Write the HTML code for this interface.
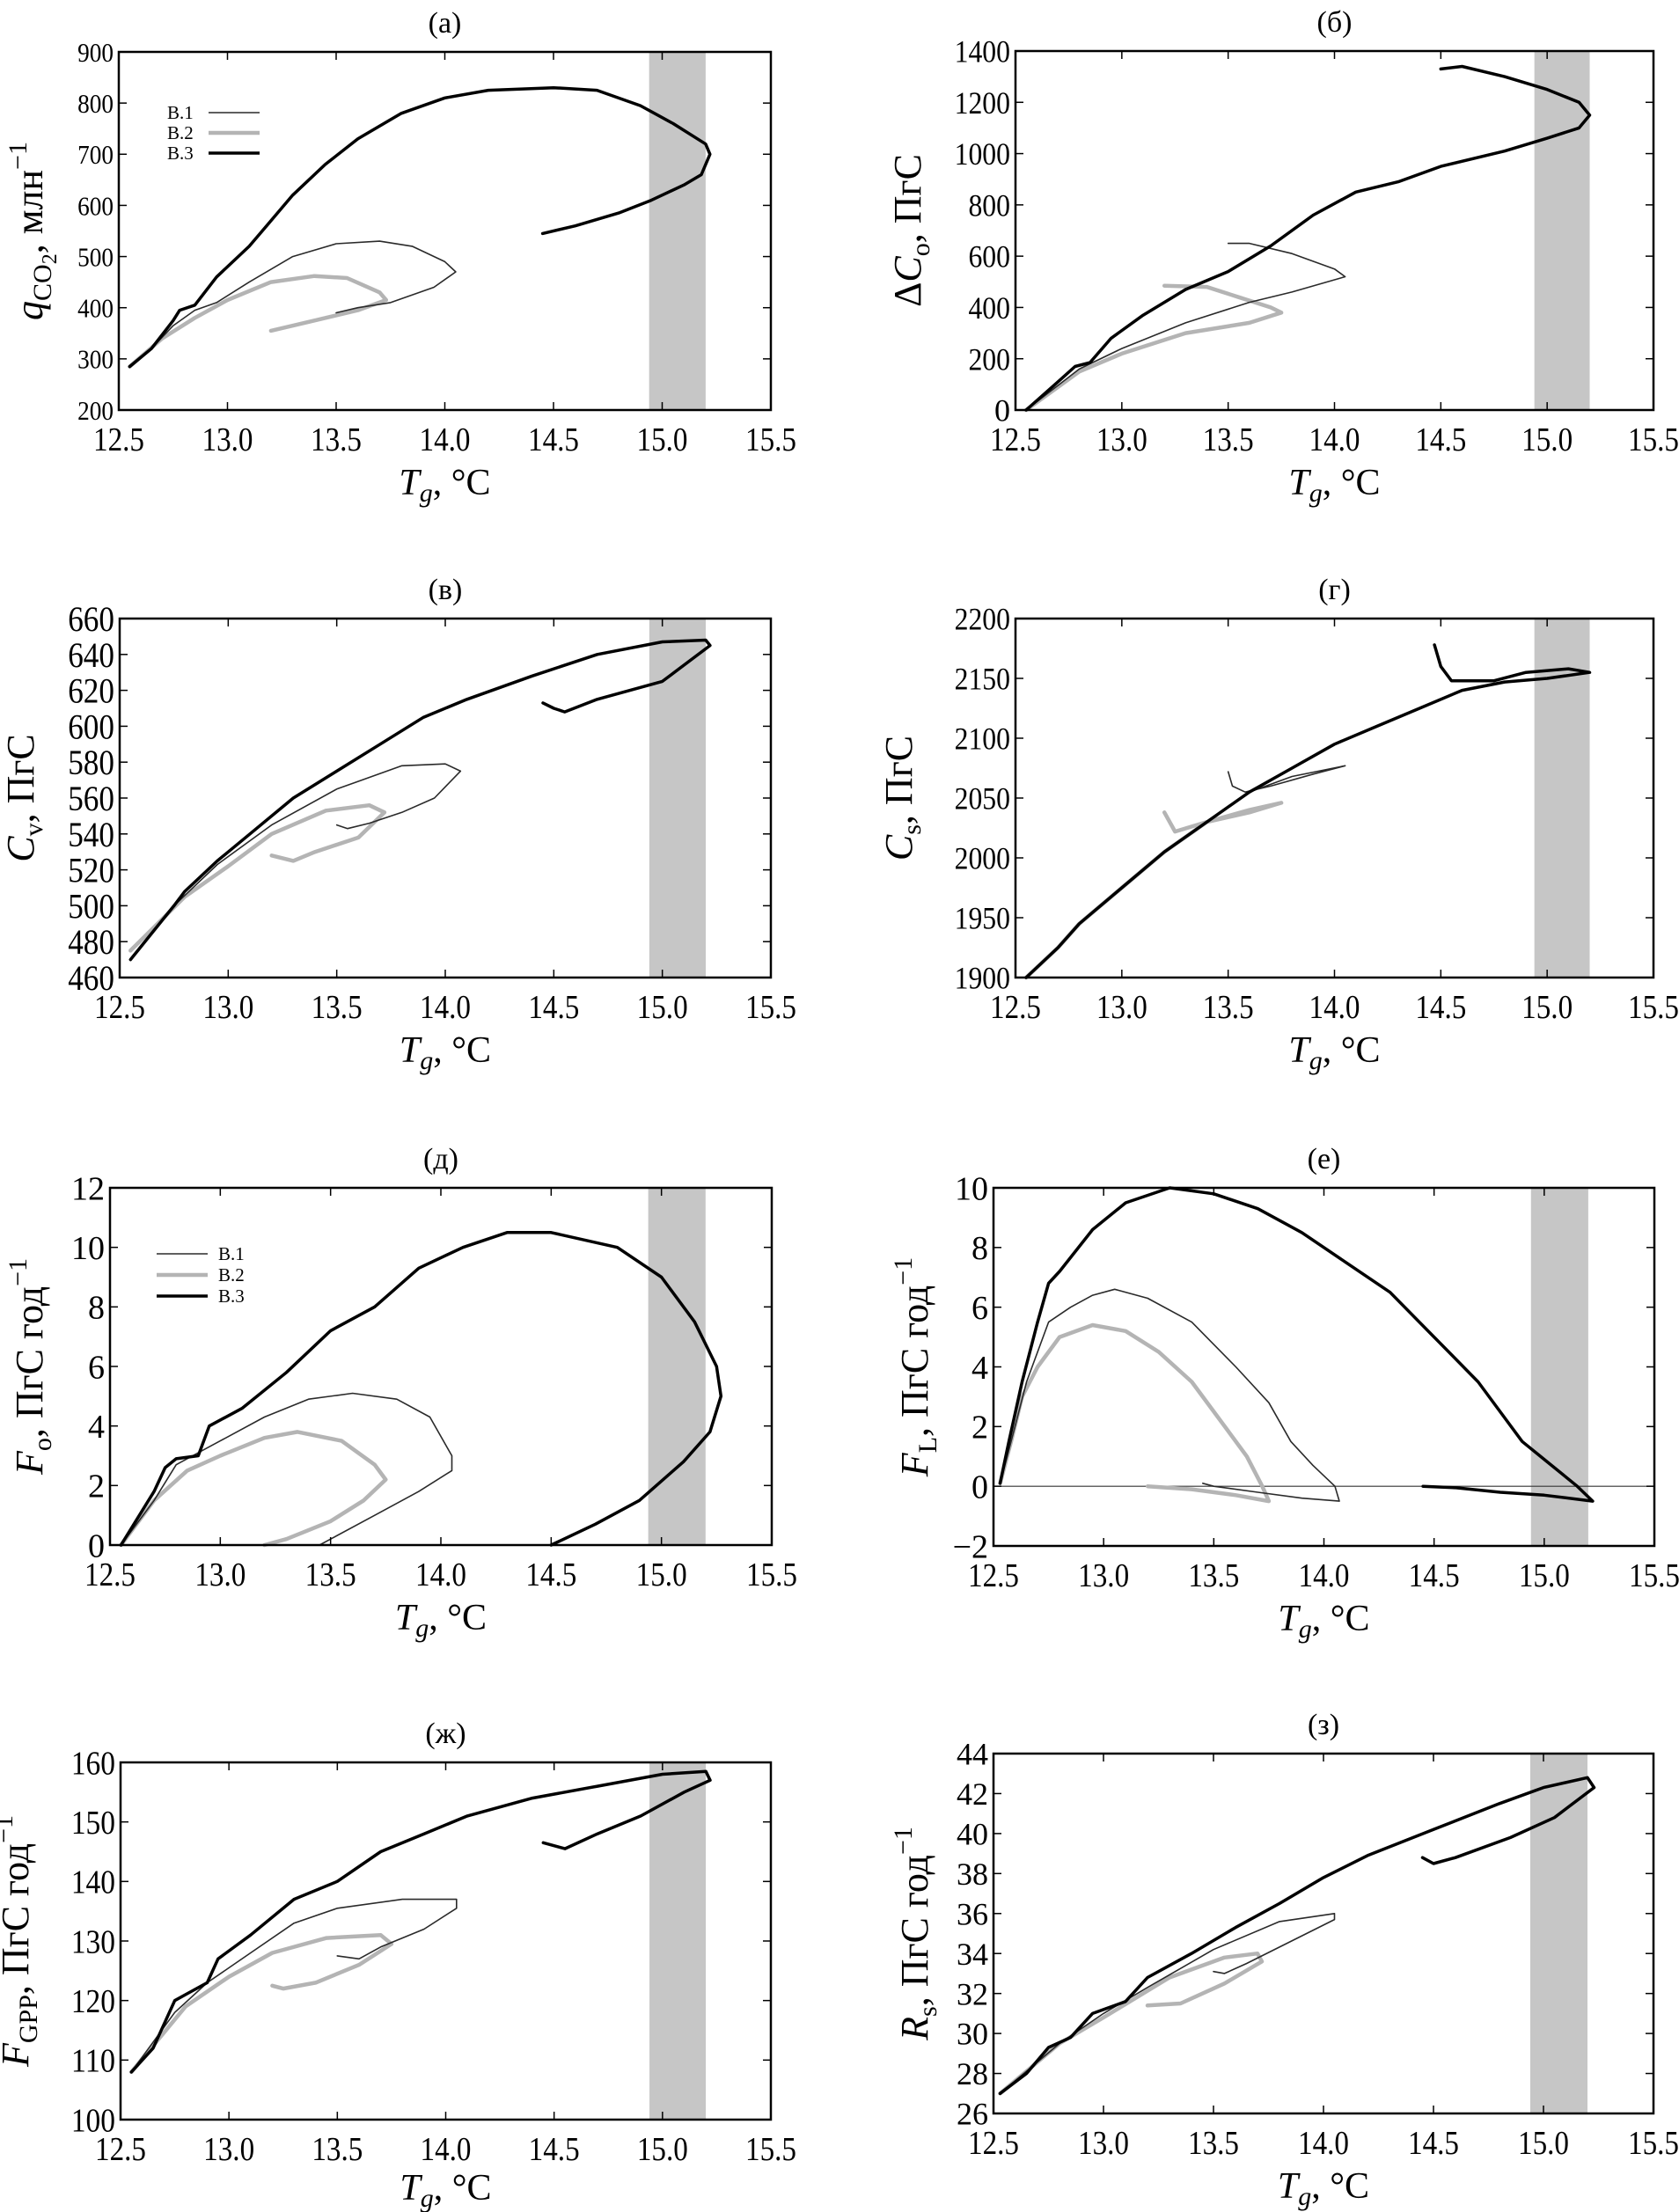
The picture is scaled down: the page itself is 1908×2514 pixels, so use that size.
<!DOCTYPE html>
<html><head><meta charset="utf-8">
<style>
html,body{margin:0;padding:0;background:#fff;}
svg{display:block;font-family:"Liberation Serif","DejaVu Serif",serif;}
svg text{font-family:"Liberation Serif","DejaVu Serif",serif;}
</style></head>
<body>
<svg id="fig" width="1908" height="2514" viewBox="0 0 1908 2514" xmlns="http://www.w3.org/2000/svg"></svg>
<script>
// X axis tick labels (shared)
const xTicks = [12.5, 13.0, 13.5, 14.0, 14.5, 15.0, 15.5];
const xTickLabels = ["12.5","13.0","13.5","14.0","14.5","15.0","15.5"];
const bandRange = [14.94, 15.2];

// Panel (a) q_CO2
const aTicks = [200,300,400,500,600,700,800,900];
const aB3T = [12.55,12.65,12.75,12.78,12.85,12.95,13.1,13.2,13.3,13.45,13.6,13.8,14.0,14.2,14.5,14.7,14.9,15.05,15.2,15.22,15.18,15.1,14.95,14.8,14.6,14.45];
const aB3Y = [285,320,375,395,405,460,520,570,620,680,730,780,810,825,830,825,795,760,720,700,660,640,610,585,560,545];
const aB1T = [12.55,12.65,12.75,12.85,12.95,13.1,13.3,13.5,13.7,13.85,14.0,14.05,13.95,13.75,13.6,13.5];
const aB1Y = [285,320,365,395,410,450,500,525,530,520,490,470,440,410,400,390];
const aB2T = [12.55,12.7,12.85,13.0,13.2,13.4,13.55,13.7,13.73,13.6,13.4,13.2];
const aB2Y = [285,340,380,415,450,462,458,430,415,395,375,355];

// Panel (б) ΔC_o
const bTicks = [0,200,400,600,800,1000,1200,1400];
const bB3T = [12.55,12.7,12.78,12.85,12.95,13.1,13.3,13.5,13.7,13.9,14.1,14.3,14.5,14.8,15.0,15.15,15.2,15.15,15.0,14.8,14.6,14.5];
const bB3Y = [0,110,170,185,280,370,470,540,640,760,850,890,950,1010,1060,1100,1150,1200,1250,1300,1340,1330];
const bB1T = [12.55,12.8,13.0,13.3,13.6,13.8,14.05,14.0,13.8,13.6,13.5];
const bB1Y = [0,160,240,340,420,460,520,550,610,650,650];
const bB2T = [12.55,12.8,13.0,13.3,13.6,13.75,13.7,13.55,13.4,13.2];
const bB2Y = [0,150,220,300,340,380,400,440,480,485];

// Panel (в) C_v
const cTicks = [460,480,500,520,540,560,580,600,620,640,660];
const cB3T = [12.55,12.65,12.75,12.8,12.95,13.1,13.3,13.5,13.7,13.9,14.1,14.4,14.7,15.0,15.2,15.22,15.0,14.7,14.55,14.5,14.45];
const cB3Y = [470,485,500,508,525,540,560,575,590,605,615,628,640,647,648,645,625,615,608,610,613];
const cB1T = [12.55,12.75,12.95,13.2,13.5,13.8,14.0,14.07,13.95,13.8,13.65,13.55,13.5];
const cB1Y = [470,500,523,545,565,578,579,575,560,552,546,543,545];
const cB2T = [12.55,12.8,13.0,13.2,13.45,13.65,13.72,13.6,13.4,13.3,13.2];
const cB2Y = [475,505,522,540,553,556,552,538,530,525,528];

// Panel (г) C_s
const dTicks = [1900,1950,2000,2050,2100,2150,2200];
const dB3T = [12.55,12.7,12.8,13.0,13.2,13.4,13.6,13.8,14.0,14.2,14.4,14.6,14.8,15.0,15.2,15.1,14.9,14.75,14.55,14.5,14.47];
const dB3Y = [1900,1925,1945,1975,2005,2030,2055,2075,2095,2110,2125,2140,2147,2150,2155,2158,2155,2148,2148,2160,2178];
const dB1T = [12.55,12.7,12.8,13.0,13.2,13.4,13.6,13.8,14.05,13.9,13.7,13.58,13.52,13.5];
const dB1Y = [1900,1925,1945,1975,2005,2030,2055,2068,2077,2070,2060,2055,2060,2072];
const dB2T = [12.55,12.7,12.8,13.0,13.2,13.4,13.6,13.75,13.6,13.4,13.25,13.2];
const dB2Y = [1900,1925,1945,1975,2005,2030,2040,2046,2038,2030,2022,2038];

// Panel (д) F_o
const eTicks = [0,2,4,6,8,10,12];
const eB3T = [12.55,12.7,12.75,12.8,12.9,12.95,13.1,13.3,13.5,13.7,13.9,14.1,14.3,14.5,14.8,15.0,15.15,15.25,15.27,15.22,15.1,14.9,14.7,14.5];
const eB3Y = [0,1.8,2.6,2.9,3.0,4.0,4.6,5.8,7.2,8.0,9.3,10.0,10.5,10.5,10.0,9.0,7.5,6.0,5.0,3.8,2.8,1.5,0.7,0];
const eB1T = [12.55,12.7,12.8,12.9,13.0,13.2,13.4,13.6,13.8,13.95,14.05,14.05,13.9,13.7,13.5,13.45];
const eB1Y = [0,1.5,2.7,3.1,3.5,4.3,4.9,5.1,4.9,4.3,3.0,2.5,1.8,1.0,0.2,0];
const eB2T = [12.55,12.7,12.85,13.0,13.2,13.35,13.55,13.7,13.75,13.65,13.5,13.3,13.2];
const eB2Y = [0,1.5,2.5,3.0,3.6,3.8,3.5,2.7,2.2,1.5,0.8,0.2,0];

// Panel (е) F_L
const fTicks = [-2,0,2,4,6,8,10];
const fB3T = [12.53,12.57,12.63,12.7,12.75,12.8,12.95,13.1,13.3,13.5,13.7,13.9,14.1,14.3,14.5,14.7,14.9,15.0,15.15,15.22,15.0,14.8,14.6,14.45];
const fB3Y = [0.1,1.5,3.5,5.5,6.8,7.2,8.6,9.5,10.0,9.8,9.3,8.5,7.5,6.5,5.0,3.5,1.5,0.9,0,-0.5,-0.3,-0.2,-0.05,0.0];
const fB1T = [12.53,12.58,12.65,12.75,12.85,12.95,13.05,13.2,13.4,13.6,13.75,13.85,13.95,14.05,14.07,13.9,13.7,13.5,13.45];
const fB1Y = [0.1,1.5,3.5,5.5,6.0,6.4,6.6,6.3,5.5,4.0,2.8,1.5,0.7,0,-0.5,-0.4,-0.2,0.0,0.1];
const fB2T = [12.53,12.58,12.63,12.7,12.8,12.95,13.1,13.25,13.4,13.55,13.65,13.72,13.75,13.6,13.4,13.2];
const fB2Y = [0.1,1.5,3,4.0,5.0,5.4,5.2,4.5,3.5,2.0,1.0,0.0,-0.5,-0.3,-0.1,0.0];

// Panel (ж) F_GPP
const gTicks = [100,110,120,130,140,150,160];
const gB3T = [12.55,12.65,12.75,12.8,12.9,12.95,13.1,13.3,13.5,13.7,13.9,14.1,14.4,14.7,15.0,15.2,15.22,15.1,14.9,14.7,14.55,14.45];
const gB3Y = [108,112,120,121,123,127,131,137,140,145,148,151,154,156,158,158.5,157,155,151,148,145.5,146.5];
const gB1T = [12.55,12.75,12.9,13.1,13.3,13.5,13.8,14.05,14.05,13.9,13.7,13.6,13.5];
const gB1Y = [108,118,123,128,133,135.5,137,137,135.5,132,129,127,127.5];
const gB2T = [12.55,12.8,13.0,13.2,13.45,13.7,13.75,13.6,13.4,13.25,13.2];
const gB2Y = [108,119,124,128,130.5,131,129.5,126,123,122,122.5];

// Panel (з) R_s
const hTicks = [26,28,30,32,34,36,38,40,42,44];
const hB3T = [12.53,12.65,12.75,12.85,12.95,13.1,13.2,13.4,13.6,13.8,14.0,14.2,14.5,14.8,15.0,15.2,15.23,15.05,14.85,14.6,14.5,14.45];
const hB3Y = [27,28,29.3,29.8,31,31.6,32.8,34.0,35.3,36.5,37.8,38.9,40.2,41.5,42.3,42.8,42.3,40.8,39.8,38.8,38.5,38.8];
const hB1T = [12.53,12.8,13.0,13.2,13.5,13.8,14.05,14.05,13.85,13.65,13.55,13.5];
const hB1Y = [27,29.5,31,32.3,34.2,35.6,36.0,35.7,34.6,33.5,33.0,33.1];
const hB2T = [12.53,12.8,13.0,13.3,13.55,13.7,13.72,13.55,13.35,13.2];
const hB2Y = [27,29.5,30.8,32.8,33.8,34.0,33.6,32.5,31.5,31.4];

const NS = "http://www.w3.org/2000/svg";
const FONT = '"Liberation Serif","DejaVu Serif",serif';
const svg = document.getElementById('fig');
function mk(tag, attrs, parent){const e=document.createElementNS(NS,tag);for(const k in attrs)e.setAttribute(k,attrs[k]);if(tag==='text')e.setAttribute('font-family',FONT);(parent||svg).appendChild(e);return e;}

const panels = [
 {id:'a',title:'(a)',L:135,R:876,T:59,B:466,ymin:200,ymax:900,ticks:aTicks,fs:31,
  s:[[aB2T,aB2Y],[aB1T,aB1Y],[aB3T,aB3Y]],ytx:48,
  ylab:[['q','i',''],['CO','','sub'],['2','','subsub'],[', млн','',''],['−1','','sup']],legend:[190,128]},
 {id:'b',title:'(б)',L:1154,R:1879,T:58,B:466,ymin:0,ymax:1400,ticks:bTicks,fs:36,
  s:[[bB2T,bB2Y],[bB1T,bB1Y],[bB3T,bB3Y]],ytx:1046,
  ylab:[['Δ','',''],['C','i',''],['o','','sub'],[', ПгС','','']]},
 {id:'c',title:'(в)',L:136,R:876,T:703,B:1111,ymin:460,ymax:660,ticks:cTicks,fs:40,
  s:[[cB2T,cB2Y],[cB1T,cB1Y],[cB3T,cB3Y]],ytx:38,
  ylab:[['C','i',''],['v','','sub'],[', ПгС','','']]},
 {id:'d',title:'(г)',L:1154,R:1879,T:703,B:1111,ymin:1900,ymax:2200,ticks:dTicks,fs:36,
  s:[[dB2T,dB2Y],[dB1T,dB1Y],[dB3T,dB3Y]],ytx:1036,
  ylab:[['C','i',''],['s','','sub'],[', ПгС','','']]},
 {id:'e',title:'(д)',L:125,R:877,T:1350,B:1756,ymin:0,ymax:12,ticks:eTicks,fs:38,
  s:[[eB2T,eB2Y],[eB1T,eB1Y],[eB3T,eB3Y]],ytx:48,
  ylab:[['F','i',''],['o','','sub'],[', ПгС год','',''],['−1','','sup']],legend2:[178,1425]},
 {id:'f',title:'(е)',L:1129,R:1880,T:1350,B:1757,ymin:-2,ymax:10,ticks:fTicks,fs:38,
  s:[[fB2T,fB2Y],[fB1T,fB1Y],[fB3T,fB3Y]],ytx:1054,zero:true,
  ylab:[['F','i',''],['L','','sub'],[', ПгС год','',''],['−1','','sup']]},
 {id:'g',title:'(ж)',L:137,R:876,T:2003,B:2409,ymin:100,ymax:160,ticks:gTicks,fs:38,
  s:[[gB2T,gB2Y],[gB1T,gB1Y],[gB3T,gB3Y]],ytx:32,
  ylab:[['F','i',''],['GPP','','sub'],[', ПгС год','',''],['−1','','sup']]},
 {id:'h',title:'(з)',L:1129,R:1879,T:1993,B:2402,ymin:26,ymax:44,ticks:hTicks,fs:36,
  s:[[hB2T,hB2Y],[hB1T,hB1Y],[hB3T,hB3Y]],ytx:1054,
  ylab:[['R','i',''],['s','','sub'],[', ПгС год','',''],['−1','','sup']]}
];
const styles = [
 {stroke:'#b4b4b4',w:4.5,name:'series-b2'},
 {stroke:'#2a2a2a',w:1.6,name:'series-b1'},
 {stroke:'#000',w:3.5,name:'series-b3'}
];

panels.forEach(p=>{
  const g = mk('g',{});
  
  
  const xs = v=>p.L+(v-12.5)/3*(p.R-p.L);
  const ys = v=>p.B-(v-p.ymin)/(p.ymax-p.ymin)*(p.B-p.T);
  const t = mk('text',{x:(p.L+p.R)/2,y:p.T-22,'font-size':34,'text-anchor':'middle'},g);
  t.textContent=p.title;
  
  
  const band = mk('rect',{x:xs(bandRange[0]),y:p.T,width:xs(bandRange[1])-xs(bandRange[0]),height:p.B-p.T,fill:'#c6c6c6'},g);
  
  
  if(p.zero){
    const z = mk('line',{x1:p.L,x2:p.R,y1:ys(0),y2:ys(0),stroke:'#333','stroke-width':1.2},g);
    
    
  }
  p.s.forEach((sr,i)=>{
    const st=styles[i];
    const pts = sr[0].map((tv,k)=>xs(tv).toFixed(1)+','+ys(sr[1][k]).toFixed(1)).join(' ');
    const pl = mk('polyline',{points:pts,fill:'none',stroke:st.stroke,'stroke-width':st.w,'stroke-linejoin':'round','stroke-linecap':'round'},g);
    
    
  });
  const fr = mk('rect',{x:p.L,y:p.T,width:p.R-p.L,height:p.B-p.T,fill:'none',stroke:'#000','stroke-width':2.5},g);
  
  
  xTicks.forEach((v,i)=>{
    const x=xs(v);
    mk('line',{x1:x,x2:x,y1:p.B,y2:p.B-9,stroke:'#000','stroke-width':1.5},g);
    mk('line',{x1:x,x2:x,y1:p.T,y2:p.T+9,stroke:'#000','stroke-width':1.5},g);
    const tl = mk('text',{x:x,y:p.B+46,'font-size':38,'text-anchor':'middle',textLength:58,lengthAdjust:'spacingAndGlyphs'},g);
    tl.textContent=xTickLabels[i];
    
    
  });
  p.ticks.forEach(v=>{
    const y=ys(v);
    mk('line',{x1:p.L,x2:p.L+9,y1:y,y2:y,stroke:'#000','stroke-width':1.5},g);
    mk('line',{x1:p.R,x2:p.R-9,y1:y,y2:y,stroke:'#000','stroke-width':1.5},g);
    const lab=(v<0?'−'+Math.abs(v):String(v));
    const attrs={x:p.L-6,y:y+p.fs*0.35,'font-size':p.fs,'text-anchor':'end'};
    if(lab.length>=3){attrs.textLength=lab.length*p.fs*0.44;attrs.lengthAdjust='spacingAndGlyphs';}
    const tl = mk('text',attrs,g);
    tl.textContent=lab;
    
    
  });
  const xt = mk('text',{x:(p.L+p.R)/2,y:Math.min(p.B+96,2500),'font-size':42,'text-anchor':'middle'},g);
  
  
  let ts=mk('tspan',{'font-style':'italic'},xt);ts.textContent='T';
  ts=mk('tspan',{'font-style':'italic',dy:8,'font-size':30},xt);ts.textContent='g';
  ts=mk('tspan',{dy:-8},xt);ts.textContent=', °C';
  const cy=(p.T+p.B)/2;
  const yt = mk('text',{x:0,y:0,'font-size':44,'text-anchor':'middle',transform:`translate(${p.ytx},${cy}) rotate(-90)`},g);
  
  
  let prev='';
  p.ylab.forEach(part=>{
    const a={};
    if(part[1]==='i') a['font-style']='italic';
    const cur=part[2];
    const off={'':0,sub:10,subsub:16,sup:-18};
    const dy=off[cur]-off[prev];
    if(dy) a.dy=dy;
    if(cur) a['font-size']= cur==='subsub'?24:30;
    const s=mk('tspan',a,yt);s.textContent=part[0];
    prev=cur;
  });
  if(p.legend){
    const [lx,ly]=p.legend;
    ['В.1','В.2','В.3'].forEach((lab,i)=>{
      const st=styles[[1,0,2][i]];
      const tx=mk('text',{x:lx,y:ly+i*23+7,'font-size':21},g);tx.textContent=lab;
      
      
      const ln=mk('line',{x1:lx+47,x2:lx+105,y1:ly+i*23,y2:ly+i*23,stroke:st.stroke,'stroke-width':st.w},g);
      
      
    });
  }
  if(p.legend2){
    const [lx,ly]=p.legend2;
    ['В.1','В.2','В.3'].forEach((lab,i)=>{
      const st=styles[[1,0,2][i]];
      const ln=mk('line',{x1:lx,x2:lx+58,y1:ly+i*24,y2:ly+i*24,stroke:st.stroke,'stroke-width':st.w},g);
      
      
      const tx=mk('text',{x:lx+70,y:ly+i*24+7,'font-size':21},g);tx.textContent=lab;
      
      
    });
  }
});
</script>
</body></html>
